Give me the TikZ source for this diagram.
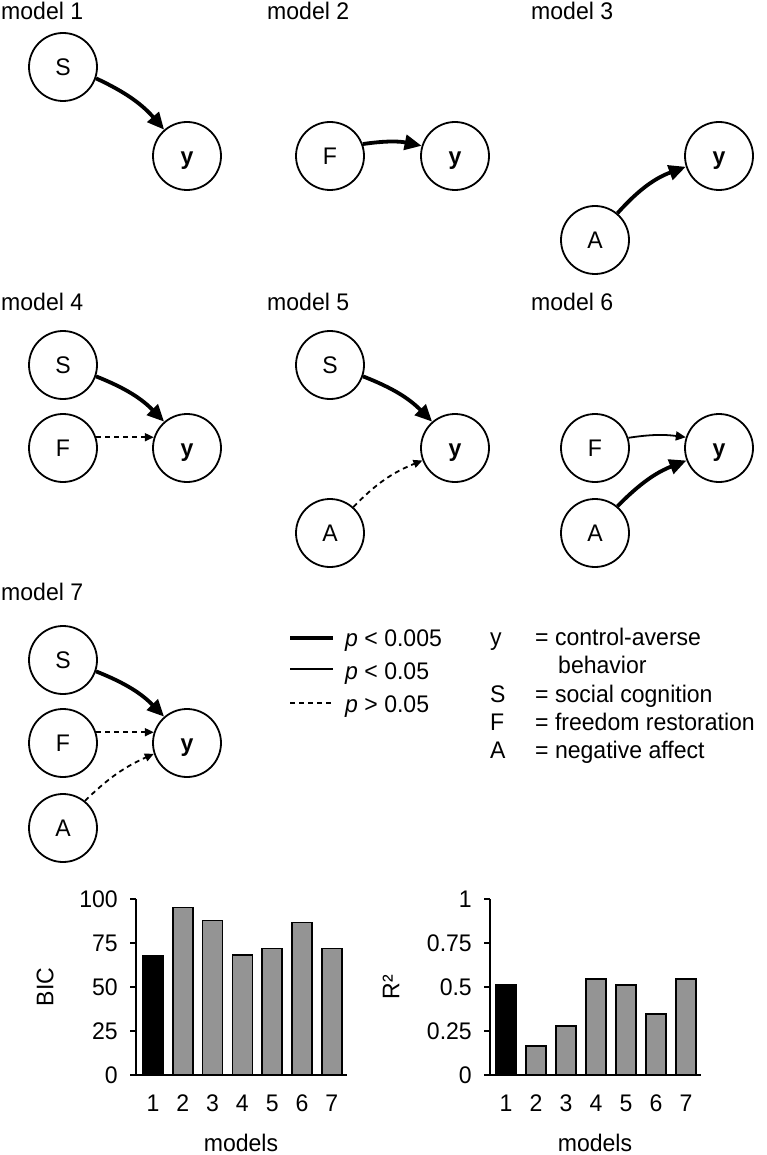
\documentclass[tikz,border=0pt]{standalone}
\usepackage{fontspec}
\setmainfont{Liberation Sans}[FakeStretch=0.96]
\usetikzlibrary{arrows.meta}
\newcommand\fs{\fontsize{24}{28}\selectfont}
\begin{document}
\begin{tikzpicture}[x=1pt,y=-1pt,
  var/.style={circle,draw,line width=1.8pt,minimum size=68pt,inner sep=0pt,font=\fs,text height=17pt,text depth=0pt},
  lbl/.style={inner sep=0pt,font=\fs},
  strong/.style={line width=3.8pt,-{Triangle[length=17pt,width=15pt]}},
  weak/.style={line width=1.8pt,-{Triangle[length=10pt,width=9pt]}},
  ns/.style={line width=1.8pt,dash pattern=on 5pt off 4pt,-{Triangle[length=9pt,width=8pt]}},
  axisline/.style={line width=2pt},
  barbox/.style={draw,line width=1.5pt,fill=black!42},
]
\useasboundingbox (0,0) rectangle (766,1155);

% ---------- model 1
\node[lbl,anchor=base west] (m1) at (1,20) {model 1};
\node[var] (S1) at (63,67) {S};
\node[var] (y1) at (187,156) {\textbf{y}};
\draw[strong] (S1.-19) to[bend left=12] (y1.131);

% ---------- model 2
\node[lbl,anchor=base west] (m2) at (267,20) {model 2};
\node[var] (F2) at (330,156) {F};
\node[var] (y2) at (455,156) {\textbf{y}};
\draw[strong] (F2.20) to[bend left=10] (y2.163);

% ---------- model 3
\node[lbl,anchor=base west] (m3) at (531,20) {model 3};
\node[var] (A3) at (595,240) {A};
\node[var] (y3) at (719,156) {\textbf{y}};
\draw[strong] (A3.50) to[bend left=14] (y3.198);

% ---------- model 4
\node[lbl,anchor=base west] (m4) at (1,310) {model 4};
\node[var] (S4) at (63,365) {S};
\node[var] (F4) at (63,448) {F};
\node[var] (y4) at (187,448) {\textbf{y}};
\draw[strong] (S4.-19) to[bend left=12] (y4.131);
\draw[ns] (F4.18) -- (y4.162);

% ---------- model 5
\node[lbl,anchor=base west] (m5) at (267,310) {model 5};
\node[var] (S5) at (330,365) {S};
\node[var] (A5) at (330,533) {A};
\node[var] (y5) at (455,448) {\textbf{y}};
\draw[strong] (S5.-19) to[bend left=12] (y5.131);
\draw[ns] (A5.48) to[bend left=12] (y5.201);

% ---------- model 6
\node[lbl,anchor=base west] (m6) at (531,310) {model 6};
\node[var] (F6) at (595,448) {F};
\node[var] (A6) at (595,533) {A};
\node[var] (y6) at (719,448) {\textbf{y}};
\draw[weak] (F6.17) to[bend left=8] (y6.162);
\draw[strong] (A6.50) to[bend left=12] (y6.201);

% ---------- model 7
\node[lbl,anchor=base west] (m7) at (1,600) {model 7};
\node[var] (S7) at (63,660) {S};
\node[var] (F7) at (63,743) {F};
\node[var] (A7) at (63,828) {A};
\node[var] (y7) at (187,743) {\textbf{y}};
\draw[strong] (S7.-19) to[bend left=12] (y7.131);
\draw[ns] (F7.18) -- (y7.162);
\draw[ns] (A7.51) to[bend left=10] (y7.198);

% ---------- legend: lines
\coordinate (la1) at (290,638); \coordinate (lb1) at (333,638);
\coordinate (la2) at (290,669); \coordinate (lb2) at (333,669);
\coordinate (la3) at (290,703); \coordinate (lb3) at (333,703);
\draw[line width=4pt] (la1) -- (lb1);
\draw[line width=1.8pt] (la2) -- (lb2);
\draw[line width=1.8pt,dash pattern=on 5pt off 4pt] (la3) -- (lb3);
\node[lbl,anchor=base west] (p1) at (345,646) {\textit{p} < 0.005};
\node[lbl,anchor=base west] (p2) at (345,679) {\textit{p} < 0.05};
\node[lbl,anchor=base west] (p3) at (345,712) {\textit{p} > 0.05};

% ---------- legend: variables
\node[lbl,anchor=base west] (ky) at (490,645) {y};
\node[lbl,anchor=base west] (vy) at (535,645) {= control-averse};
\node[lbl,anchor=base west] (vy2) at (558,673) {behavior};
\node[lbl,anchor=base west] (kS) at (490,702) {S};
\node[lbl,anchor=base west] (vS) at (535,702) {= social cognition};
\node[lbl,anchor=base west] (kF) at (490,730) {F};
\node[lbl,anchor=base west] (vF) at (535,730) {= freedom restoration};
\node[lbl,anchor=base west] (kA) at (490,758) {A};
\node[lbl,anchor=base west] (vA) at (535,758) {= negative affect};

% ---------- BIC chart
\foreach \i/\v in {2/95.1,3/87.7,4/68.2,5/71.8,6/86.7,7/72}{
  \draw[barbox] ({153+29.8*(\i-1)-10},1075) rectangle ++(20,{-\v*1.76});
}
\draw[barbox,fill=black] (143,1075) rectangle ++(20,{-67.8*1.76});
\draw[axisline] (136,899) -- (136,1075) -- (347,1075);
\foreach \t in {0,25,50,75,100}{
  \draw[axisline] (130,{1075-\t*1.76}) -- (136,{1075-\t*1.76});
  \node[lbl,anchor=east] (bt\t) at (118,{1075-\t*1.76}) {\t};
}
\foreach \i in {1,...,7}{
  \node[lbl] (bx\i) at ({153+29.8*(\i-1)},1103) {\i};
}
\node[lbl,anchor=base] (bxl) at (241,1151) {models};
\node[lbl,rotate=90] (byl) at (45,987) {BIC};

% ---------- R2 chart
\foreach \i/\v in {2/0.165,3/0.278,4/0.545,5/0.511,6/0.347,7/0.545}{
  \draw[barbox] ({506+30*(\i-1)-10},1075) rectangle ++(20,{-\v*176});
}
\draw[barbox,fill=black] (496,1075) rectangle ++(20,{-0.511*176});
\draw[axisline] (490,899) -- (490,1075) -- (701,1075);
\foreach \t/\l in {0/0,0.25/0.25,0.5/0.5,0.75/0.75,1/1}{
  \draw[axisline] (484,{1075-\t*176}) -- (490,{1075-\t*176});
  \node[lbl,anchor=east] at (472,{1075-\t*176}) {\l};
}
\foreach \i in {1,...,7}{
  \node[lbl] (rx\i) at ({506+30*(\i-1)},1103) {\i};
}
\node[lbl,anchor=base] (rxl) at (595,1151) {models};
\node[lbl,rotate=90] (ryl) at (391,987) {R²};
\end{tikzpicture}
\end{document}
